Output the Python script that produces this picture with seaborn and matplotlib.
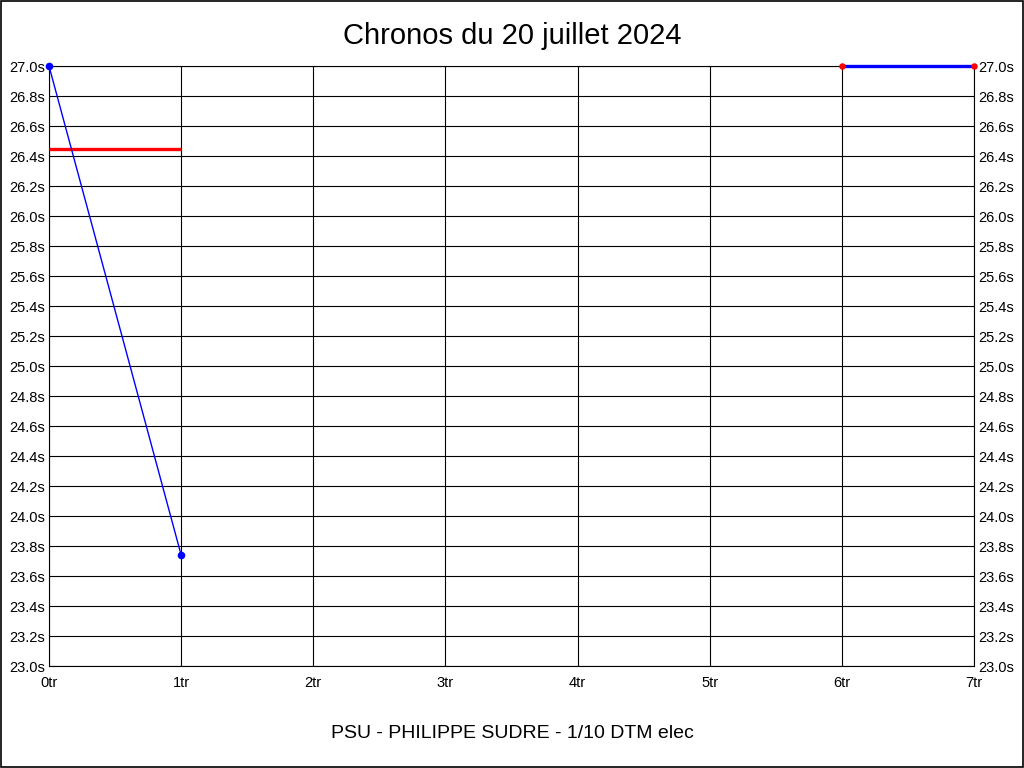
import numpy as np
import pandas as pd
import matplotlib
matplotlib.use("Agg")
import matplotlib.pyplot as plt
import seaborn as sns
from matplotlib.patches import Rectangle

# Donnees
tours = [0, 1]
chronos = [27.0, 23.74]
ref_tours = [0, 1]
ref_chrono = [26.45, 26.45]
fin_tours = [6, 7]
fin_chrono = [27.0, 27.0]
x_labels = [f"{i}tr" for i in range(8)]
y_ticks = np.round(np.arange(23.0, 27.01, 0.2), 1)

sns.set_theme(style="white")
plt.rcParams['font.family'] = ['Liberation Sans', 'DejaVu Sans']

fig = plt.figure(figsize=(10.24, 7.68), dpi=100)
ax = fig.add_axes([49/1024, 102/768, 925/1024, 600/768])

df = pd.DataFrame({"tour": tours, "chrono": chronos})
df_ref = pd.DataFrame({"tour": ref_tours, "chrono": ref_chrono})
df_fin = pd.DataFrame({"tour": fin_tours, "chrono": fin_chrono})

sns.lineplot(x="tour", y="chrono", data=df_ref, color="#ff0000", linewidth=2.4, ax=ax, zorder=3)
sns.lineplot(x="tour", y="chrono", data=df, color="#0000ff", linewidth=1.0, ax=ax, zorder=4,
             marker="o", markersize=5.5, markeredgewidth=0)
sns.lineplot(x="tour", y="chrono", data=df_fin, color="#0000ff", linewidth=2.4, ax=ax, zorder=4)
sns.scatterplot(x="tour", y="chrono", data=df_fin, color="#ff0000", s=22, linewidth=0, ax=ax,
                zorder=5, clip_on=False)
for ln in ax.lines:
    ln.set_clip_on(False)
    ln.set_solid_capstyle("butt")

ax.set_xlim(0, 7)
ax.set_ylim(23.0, 27.0)
ax.set_xticks(range(8))
ax.set_xticklabels(x_labels)
ax.set_yticks(y_ticks)
ax.set_yticklabels([f"{v:.1f}s" for v in y_ticks])
ax.grid(True, color="black", linewidth=0.8)
ax.tick_params(axis="both", length=0, labelsize=10.5, colors="black")
ax.tick_params(axis="y", pad=3, labelright=True, right=False)
ax.tick_params(axis="x", pad=7)
for sp in ax.spines.values():
    sp.set_color("black")
    sp.set_linewidth(0.8)
ax.set_xlabel("")
ax.set_ylabel("")

fig.text(0.5, 1 - 36/768, "Chronos du 20 juillet 2024", ha="center", va="center",
         fontsize=21, color="black")
fig.text(0.5, 1 - 733/768, "PSU - PHILIPPE SUDRE - 1/10 DTM elec", ha="center", va="center",
         fontsize=14, color="black")

fig.patches.append(Rectangle((0.0005, 0.0007), 0.9985, 0.998, transform=fig.transFigure,
                             fill=False, edgecolor="black", linewidth=1.2))

fig.savefig("out.png", dpi=100)
